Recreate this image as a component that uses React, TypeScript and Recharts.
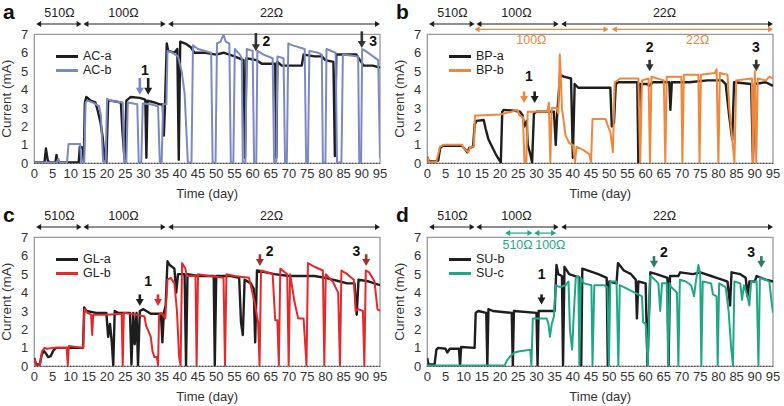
import React from 'react';
import { LineChart, Line, XAxis, YAxis, ReferenceLine, ReferenceArea, ReferenceDot } from 'recharts';

type Pt = [number, number];

// tick labels
const xTicks = [0, 5, 10, 15, 20, 25, 30, 35, 40, 45, 50, 55, 60, 65, 70, 75, 80, 85, 90, 95];
const yTicks = [0, 1, 2, 3, 4, 5, 6, 7];

// panel a  (day, mA)
const acA: Pt[] = [[0,0.05],[2.8,0.05],[3.2,0.8],[3.7,0.15],[4.2,0.05],[5.8,0.05],[6.1,0.45],[6.4,0.05],[12.2,0.05],[12.5,0.9],[13.3,0.85],[13.6,0.1],[13.9,3.3],[14.3,3.6],[15.5,3.4],[16.8,3.3],[17.5,2.8],[18.2,2.2],[18.8,1.4],[19.3,0.3],[19.8,0.05],[20.3,3.4],[21,3.4],[23.8,3.3],[24.2,1.8],[24.8,0.2],[25.3,3.4],[26.5,3.6],[29,3.55],[30.5,3.45],[30.8,0.3],[31.1,3.4],[33,3.3],[34.5,3.2],[35.3,3.2],[35.6,1.5],[35.9,3.1],[36.4,6.5],[36.8,6.1],[38.5,6.0],[39.3,6.2],[39.7,0.2],[40.1,6.6],[41.5,6.5],[43,6.3],[44,6.0],[47,6.0],[50,5.9],[52,6.0],[55,5.8],[57.5,5.6],[57.9,0.3],[58.3,5.7],[61,5.6],[62.5,5.4],[66.2,5.4],[66.5,0.3],[66.8,5.5],[68,5.3],[73.5,5.3],[74,5.9],[77,5.8],[79,5.8],[80,5.6],[82.2,5.5],[82.6,0.4],[83,5.9],[86,5.9],[88.5,5.9],[89.5,5.6],[90.5,5.3],[93,5.3],[95,5.2]];
const acB: Pt[] = [[0,0.05],[6.2,0.05],[6.6,0.25],[7,0.05],[9,0.05],[9.4,1.05],[12.6,1.05],[12.9,0.05],[13.7,0.05],[14.1,3.3],[14.6,3.4],[16,3.3],[17.8,3.1],[18.3,2.6],[18.9,0.1],[19.6,0.05],[20,3.5],[21,3.4],[24.3,3.3],[24.7,0.05],[25.3,0.05],[25.7,3.3],[28.3,3.2],[28.7,0.05],[29.4,0.05],[29.8,3.25],[32,3.2],[34,3.1],[34.5,0.05],[35,0.05],[35.4,3.2],[36.3,3.2],[36.6,6.1],[38,6.0],[39.5,5.8],[40.5,5.0],[41.3,3.8],[42.2,0.05],[43.2,0.05],[43.6,6.4],[45,6.2],[48.6,6.0],[49,0.05],[49.8,0.05],[50.2,6.5],[51.2,6.6],[52,7.0],[52.6,6.6],[53.6,6.5],[54,0.05],[54.7,0.05],[55.1,6.2],[56.5,5.9],[57,5.7],[57.3,0.05],[58,0.05],[58.4,6.2],[60,6.1],[60.4,0.05],[61,0.05],[61.3,6.1],[63,5.9],[65.5,5.7],[65.9,0.05],[66.5,0.05],[66.8,5.8],[68.5,5.7],[68.9,0.05],[69.4,0.05],[69.8,6.5],[71,6.4],[74.3,6.2],[74.7,0.05],[75.2,0.05],[75.6,6.1],[78,6.0],[79,5.9],[79.3,0.05],[80,0.05],[80.3,6.2],[82.8,6.0],[83.2,0.05],[84.4,0.05],[84.8,5.9],[89,5.8],[89.3,0.05],[89.8,0.05],[90.1,6.2],[91,6.1],[94.5,5.6],[95,0.3]];

// panel b
const bpA: Pt[] = [[0,0.35],[0.4,0.1],[2,0.1],[3,0.15],[3.5,0.8],[4.2,0.95],[9.5,0.95],[10.2,0.8],[11,0.6],[11.6,0.85],[12.6,0.9],[13,2.1],[13.5,2.3],[15.5,2.35],[16,1.9],[16.8,1.3],[17.8,0.9],[18.8,0.5],[19.7,0.2],[20.2,0.05],[20.6,2.8],[21,2.9],[24,2.85],[25.5,2.8],[26.2,2.6],[26.6,2.0],[27.3,2.3],[27.6,1.0],[28.3,0.5],[28.8,0.05],[29.3,2.7],[30,2.8],[34.8,2.8],[35.3,1.0],[35.7,2.7],[36.5,4.8],[37.5,4.7],[39.5,4.6],[40,0.3],[40.5,4.3],[41.5,4.1],[45,4.1],[50.3,4.1],[50.7,2.0],[51.3,2.2],[51.8,4.3],[52.5,4.4],[57.7,4.4],[58,0.05],[58.4,4.3],[60.5,4.3],[61,4.2],[62,4.4],[66.5,4.4],[66.8,2.9],[67.2,4.4],[72,4.4],[77,4.5],[81,4.5],[82,4.3],[83,2.5],[83.8,1.3],[84.3,4.4],[89,4.3],[89.5,0.05],[90,4.3],[93,4.4],[95,4.2]];
const bpB: Pt[] = [[0,0.35],[0.5,0.05],[2.5,0.1],[3.5,0.9],[4.5,1.0],[9.5,1.0],[10.3,0.75],[11.3,0.6],[11.8,0.9],[12.8,0.9],[13.1,2.6],[14,2.6],[20,2.65],[23,2.8],[24.8,2.9],[25.3,2.6],[26.3,2.5],[26.7,0.05],[27.2,0.05],[27.6,2.8],[33,2.8],[33.4,3.3],[33.8,0.05],[34.2,3.0],[35.5,3.0],[36,2.7],[36.4,5.9],[36.7,4.7],[37,3.0],[38,1.5],[39,1.1],[40,1.0],[40.6,0.05],[41,0.9],[43,0.7],[44.5,0.5],[45,0.05],[45.4,2.4],[49,2.4],[49.5,2.1],[50.3,1.7],[51,0.6],[51.5,4.4],[53,4.6],[58,4.6],[58.5,0.05],[59,4.5],[60.8,4.6],[61.2,0.05],[61.6,4.7],[65,4.5],[65.4,0.05],[65.8,4.7],[69.8,4.7],[70.1,0.05],[70.5,4.8],[74.5,4.8],[74.8,0.05],[75.2,4.8],[79,4.9],[79.5,5.1],[80,0.05],[80.4,4.9],[82.5,4.8],[83,3.0],[84.4,0.05],[84.9,4.5],[89.2,4.6],[89.5,0.05],[90,5.0],[90.4,0.05],[90.8,4.6],[93,4.5],[94,4.7],[95,4.6]];

// panel c
const glA: Pt[] = [[0,0.45],[0.5,0.1],[1.5,0.1],[2,0.6],[2.6,0.85],[3.2,0.7],[3.8,0.5],[4.5,0.55],[5.2,0.85],[6,1.0],[13.4,1.0],[13.7,3.2],[14.3,3.0],[17,2.9],[19.8,2.9],[20.3,1.6],[20.8,2.3],[21.3,1.3],[21.7,0.05],[22.1,3.0],[23,2.9],[26.3,2.9],[26.7,0.1],[27.2,2.9],[27.6,1.2],[28.1,2.9],[28.5,0.05],[29,3.0],[30,3.1],[32,2.85],[34.8,2.85],[35.2,1.3],[35.6,2.9],[36.1,3.3],[36.6,5.7],[37.2,5.5],[38.5,5.3],[39,4.0],[39.5,5.0],[41.3,5.0],[41.7,0.05],[42.1,5.0],[45,4.9],[49.3,4.9],[49.6,0.05],[50,4.9],[54,4.9],[56.3,4.8],[56.8,2.4],[57.3,1.7],[57.8,4.7],[59.5,4.5],[60.3,4.2],[60.7,1.3],[61.2,5.2],[66,5.0],[70,4.9],[73,4.9],[77,4.9],[80,4.8],[82,4.7],[84,4.6],[86,4.5],[88,4.5],[88.6,2.8],[89.1,4.7],[92,4.6],[95,4.4]];
const glB: Pt[] = [[0,0.4],[0.5,0.05],[1.5,0.05],[2.1,0.8],[2.8,1.0],[3.5,0.95],[5,1.0],[8.9,1.0],[9.2,0.05],[9.5,1.1],[13.4,1.0],[13.8,3.1],[14.6,2.9],[15.6,2.8],[15.9,1.7],[16.2,2.8],[20,2.8],[24,2.85],[24.3,0.05],[24.6,2.9],[28,2.8],[30.3,2.7],[30.7,2.2],[31.4,1.9],[32,1.6],[32.5,0.8],[33,0.5],[33.7,0.5],[34,0.05],[34.3,2.8],[35,2.9],[36,2.6],[36.6,4.7],[37.5,4.8],[38.5,4.5],[39.2,3.0],[39.8,0.5],[40.2,0.05],[40.6,5.6],[41.5,5.3],[42,4.9],[44.3,4.9],[44.6,0.05],[45,5.0],[48,4.9],[52,4.8],[52.4,0.05],[52.8,5.0],[55,4.9],[59,4.8],[60.5,3.5],[61.5,2.4],[61.9,0.05],[62.3,5.2],[64,5.1],[65.5,5.0],[66.2,2.5],[66.8,2.5],[67.2,0.05],[67.6,5.3],[69.5,5.0],[69.9,0.05],[70.3,5.0],[71.5,3.5],[72.5,2.6],[74,2.6],[74.8,0.05],[75.2,5.6],[77,5.4],[79.3,5.2],[79.7,0.05],[80.1,5.0],[82,4.6],[83.5,4.0],[84,0.05],[84.4,5.2],[86,5.0],[87.8,4.7],[88.3,3.0],[89,3.1],[90.3,3.0],[90.7,0.05],[91.1,5.2],[92,5.1],[93.5,4.6],[94.3,3.1],[95,3.0]];

// panel d
const suB: Pt[] = [[0,0.45],[0.3,0.1],[2,0.1],[2.5,0.9],[3,1.0],[5,0.95],[5.5,0.75],[6.2,0.95],[8.7,0.95],[9,0.05],[9.3,1.05],[13,1.0],[13.3,2.9],[14,3.0],[16.2,2.9],[16.5,0.05],[16.8,3.1],[18,3.0],[23.2,2.9],[23.5,0.05],[23.8,3.0],[30,2.9],[30.3,0.05],[30.6,3.0],[33,3.0],[35,3.0],[35.5,5.5],[36,5.0],[37,4.9],[37.3,0.05],[37.7,5.4],[39,5.0],[42,4.8],[42.3,0.05],[42.6,5.3],[44,5.2],[47,5.0],[49.3,4.8],[49.6,0.05],[50,4.6],[52,4.5],[52.4,5.6],[54,5.2],[56,5.0],[57.3,4.7],[57.6,2.6],[58,4.6],[60,4.5],[60.5,0.05],[61.3,5.1],[63,5.0],[66,4.8],[66.3,0.05],[66.7,4.9],[69,4.9],[69.5,5.1],[73,5.0],[75,5.1],[78,4.9],[79.5,4.8],[81,4.7],[82.5,4.6],[83.2,3.3],[83.6,5.1],[86,5.0],[87.5,4.8],[88,3.8],[88.5,4.6],[90,4.6],[90.5,4.9],[93,4.7],[95,4.6]];
const suC: Pt[] = [[0,0.05],[21.3,0.05],[21.8,0.3],[22.8,0.55],[24,0.75],[25,0.8],[28.3,0.9],[28.6,0.05],[29,2.6],[32.8,2.6],[33.3,2.3],[33.7,1.6],[34.2,2.3],[34.8,2.7],[35.3,4.4],[36.5,4.3],[38,4.4],[38.8,4.6],[39.2,2.0],[39.8,0.9],[40.3,3.0],[40.8,4.8],[41.5,4.9],[41.8,0.05],[42.2,4.8],[43,4.5],[45.1,4.4],[45.4,0.05],[45.9,4.4],[48.5,4.4],[49.5,4.3],[49.9,0.05],[50.3,4.6],[52,4.6],[52.5,0.05],[52.9,4.4],[54,4.3],[55,4.2],[57,4.0],[58,3.9],[59,3.8],[59.3,2.4],[60,2.3],[60.6,0.05],[61.2,4.9],[62,4.8],[63.5,4.5],[64,3.0],[64.5,4.5],[65.8,4.5],[66.2,0.05],[66.6,4.5],[67,4.3],[68.6,4.0],[69,0.05],[69.4,4.7],[71,4.6],[72.5,4.4],[73.3,3.8],[73.8,4.6],[74.5,5.5],[75,5.0],[75.3,0.05],[75.7,4.6],[78,4.5],[78.5,3.9],[79.5,3.8],[79.8,0.05],[80.2,4.5],[82,4.3],[82.8,3.0],[83.5,1.0],[84,0.05],[84.4,4.6],[86,4.5],[86.5,3.6],[87,4.4],[88,3.8],[88.5,3.3],[89,4.6],[90.5,4.6],[91,0.05],[91.4,4.8],[93,4.7],[94,4.6],[94.6,3.5],[95,2.9]];

// resistance periods: [from, to, labelAt, text]
type Range = [number, number, number, string];
const stagesMain: Range[] = [[0.5, 13, 6.9, '510Ω'], [13.5, 36.1, 24.5, '100Ω'], [36.8, 95, 65.2, '22Ω']];
const stagesBPb: Range[] = [[13, 49.8, 28.6, '100Ω'], [50.7, 95, 74.3, '22Ω']];
const stagesSUc: Range[] = [[21.4, 28.9, 24.8, '510Ω'], [29.4, 35.4, 33.8, '100Ω']];

// markers: [day, top, bottom, colour]
type Mark = [number, number, number, string];
type Num = [number, number, string];

const BLACK = '#1e1e1e';
const BLUE = '#7b89c5';
const ORANGE = '#f0873a';
const RED = '#e8272b';
const GREEN = '#1fa886';

const toRows = (pts: Pt[]) => pts.map(([t, v]) => ({ t, v }));

const rangeShape = (color: string) => (p: any) => {
  const { x1, y1, x2 } = p;
  const w = 5, h = 3;
  return (
    <g>
      <line x1={x1 + 2} y1={y1} x2={x2 - 2} y2={y1} stroke={color} strokeWidth={1.2} />
      <path d={`M${x1},${y1}L${x1 + w},${y1 - h}L${x1 + w},${y1 + h}Z`} fill={color} />
      <path d={`M${x2},${y1}L${x2 - w},${y1 - h}L${x2 - w},${y1 + h}Z`} fill={color} />
    </g>
  );
};

const downShape = (color: string) => (p: any) => {
  const { x1, y1, y2 } = p;
  const hw = 4, hh = 7;
  return (
    <g>
      <line x1={x1} y1={y1} x2={x1} y2={y2 - hh + 1} stroke={color} strokeWidth={2.6} />
      <path d={`M${x1 - hw},${y2 - hh}L${x1 + hw},${y2 - hh}L${x1},${y2}Z`} fill={color} />
    </g>
  );
};

const textShape = (text: string, color: string, size: number, bold: boolean) => (p: any) => (
  <text x={p.cx} y={p.cy} fill={color} fontSize={size} fontWeight={bold ? 700 : 400}
    textAnchor="middle" dominantBaseline="central">{text}</text>
);

interface PanelProps {
  letter: string;
  left: number;
  top: number;
  series: { name: string; color: string; pts: Pt[] }[];
  extraStages?: Range[];
  extraColor?: string;
  extraY?: number;
  extraLabelY?: number;
  marks: Mark[];
  nums: Num[];
}

function Panel({ letter, left, top, series, extraStages, extraColor, extraY, extraLabelY, marks, nums }: PanelProps) {
  return (
    <div style={{ position: 'absolute', left, top, width: 392, height: 203 }}>
      <LineChart width={392} height={203} margin={{ top: 34.3, right: 12, bottom: 0, left: 0 }}>
        <XAxis type="number" dataKey="t" domain={[0, 95]} ticks={xTicks} interval={0} allowDataOverflow
          height={39.7} axisLine={false} tickLine={false} tickSize={3} tickMargin={2}
          tick={{ fontSize: 13, fill: '#333' }}
          label={{ value: 'Time (day)', position: 'insideBottom', offset: 5, fontSize: 13, fill: '#333' }} />
        <YAxis type="number" domain={[0, 7]} ticks={yTicks} interval={0} allowDataOverflow width={34.3}
          axisLine={false} tickLine={false} tickSize={4} tickMargin={2}
          tick={{ fontSize: 13, fill: '#333' }}
          label={{ value: 'Current (mA)', angle: -90, position: 'insideLeft', offset: 6.5, fontSize: 13.5, fill: '#333', style: { textAnchor: 'middle' } }} />
        <ReferenceArea x1={0} x2={95} y1={0} y2={7} fill="#fff" fillOpacity={0} stroke="#999" strokeWidth={1.3} ifOverflow="visible" />
        <ReferenceLine y={0} stroke="#333" strokeWidth={1.2} strokeDasharray="1 2" />
        {series.map((s) => (
          <Line key={s.name} data={toRows(s.pts)} dataKey="v" name={s.name} stroke={s.color}
            strokeWidth={s.color === BLACK ? 2.4 : 2} dot={false} isAnimationActive={false}
            strokeLinejoin="round" type="linear" />
        ))}
        {stagesMain.map(([a, b, at, txt]) => (
          <ReferenceLine key={'s' + txt} segment={[{ x: a, y: 7.56 }, { x: b, y: 7.56 }]} ifOverflow="visible" shape={rangeShape(BLACK)} />
        ))}
        {stagesMain.map(([a, b, at, txt]) => (
          <ReferenceDot key={'sl' + txt} x={at} y={8.15} r={0} ifOverflow="visible" shape={textShape(txt, '#222', 12.5, false)} />
        ))}
        {(extraStages || []).map(([a, b, at, txt]) => (
          <ReferenceLine key={'e' + txt} segment={[{ x: a, y: extraY! }, { x: b, y: extraY! }]} ifOverflow="visible" shape={rangeShape(extraColor!)} />
        ))}
        {(extraStages || []).map(([a, b, at, txt]) => (
          <ReferenceDot key={'el' + txt} x={at} y={extraLabelY!} r={0} ifOverflow="visible" shape={textShape(txt, extraColor!, 12.5, false)} />
        ))}
        {marks.map(([d, y1, y2, c], i) => (
          <ReferenceLine key={'m' + i} segment={[{ x: d, y: y1 }, { x: d, y: y2 }]} ifOverflow="visible" shape={downShape(c)} />
        ))}
        {nums.map(([d, y, txt], i) => (
          <ReferenceDot key={'n' + i} x={d} y={y} r={0} ifOverflow="visible" shape={textShape(txt, '#111', 14, true)} />
        ))}
      </LineChart>
      <div style={{ position: 'absolute', left: 3, top: 1, fontSize: 21, lineHeight: '21px', fontWeight: 700, color: '#111' }}>{letter}</div>
      <div style={{ position: 'absolute', left: 56, top: 49, fontSize: 12.5, color: '#222', lineHeight: '14px' }}>
        {series.map((s) => (
          <div key={s.name} style={{ display: 'flex', alignItems: 'center', height: 14 }}>
            <span style={{ display: 'inline-block', width: 22, height: 3, background: s.color, marginRight: 5 }} />
            {s.name}
          </div>
        ))}
      </div>
    </div>
  );
}

export default function App() {
  return (
    <div style={{ position: 'absolute', left: 0, top: 0, width: 784, height: 406, background: '#fff', fontFamily: '"Liberation Sans", Arial, sans-serif' }}>
      <Panel letter="a" left={0} top={0}
        series={[{ name: 'AC-a', color: BLACK, pts: acA }, { name: 'AC-b', color: BLUE, pts: acB }]}
        marks={[[29.0, 4.63, 3.72, BLUE], [31.3, 4.63, 3.72, BLACK], [60.9, 7.07, 6.08, '#333'], [90.0, 7.16, 6.26, '#333']]}
        nums={[[30.4, 5.08, '1'], [63.8, 6.62, '2'], [93.1, 6.62, '3']]} />
      <Panel letter="b" left={393} top={0}
        series={[{ name: 'BP-a', color: BLACK, pts: bpA }, { name: 'BP-b', color: ORANGE, pts: bpB }]}
        extraStages={stagesBPb} extraColor={ORANGE} extraY={7.27} extraLabelY={6.69}
        marks={[[26.6, 3.9, 3.27, ORANGE], [29.5, 3.9, 3.27, BLACK], [61.1, 5.62, 4.99, '#333'], [90.4, 5.62, 4.99, '#333']]}
        nums={[[27.9, 4.72, '1'], [61.1, 6.33, '2'], [90.3, 6.33, '3']]} />
      <Panel letter="c" left={0} top={203}
        series={[{ name: 'GL-a', color: BLACK, pts: glA }, { name: 'GL-b', color: RED, pts: glB }]}
        marks={[[29.0, 3.9, 3.27, BLACK], [34.0, 3.9, 3.27, RED], [62.0, 6.08, 5.44, '#a3302f'], [91.2, 6.08, 5.44, '#a3302f']]}
        nums={[[31.3, 4.63, '1'], [64.7, 6.26, '2'], [88.5, 6.26, '3']]} />
      <Panel letter="d" left={393} top={203}
        series={[{ name: 'SU-b', color: BLACK, pts: suB }, { name: 'SU-c', color: GREEN, pts: suC }]}
        extraStages={stagesSUc} extraColor={GREEN} extraY={7.23} extraLabelY={6.6}
        marks={[[31.4, 3.9, 3.35, BLACK], [62.3, 5.98, 5.35, '#2a7d66'], [91.8, 5.98, 5.35, '#2a7d66']]}
        nums={[[31.4, 5.0, '1'], [65.0, 6.22, '2'], [89.0, 6.22, '3']]} />
    </div>
  );
}
